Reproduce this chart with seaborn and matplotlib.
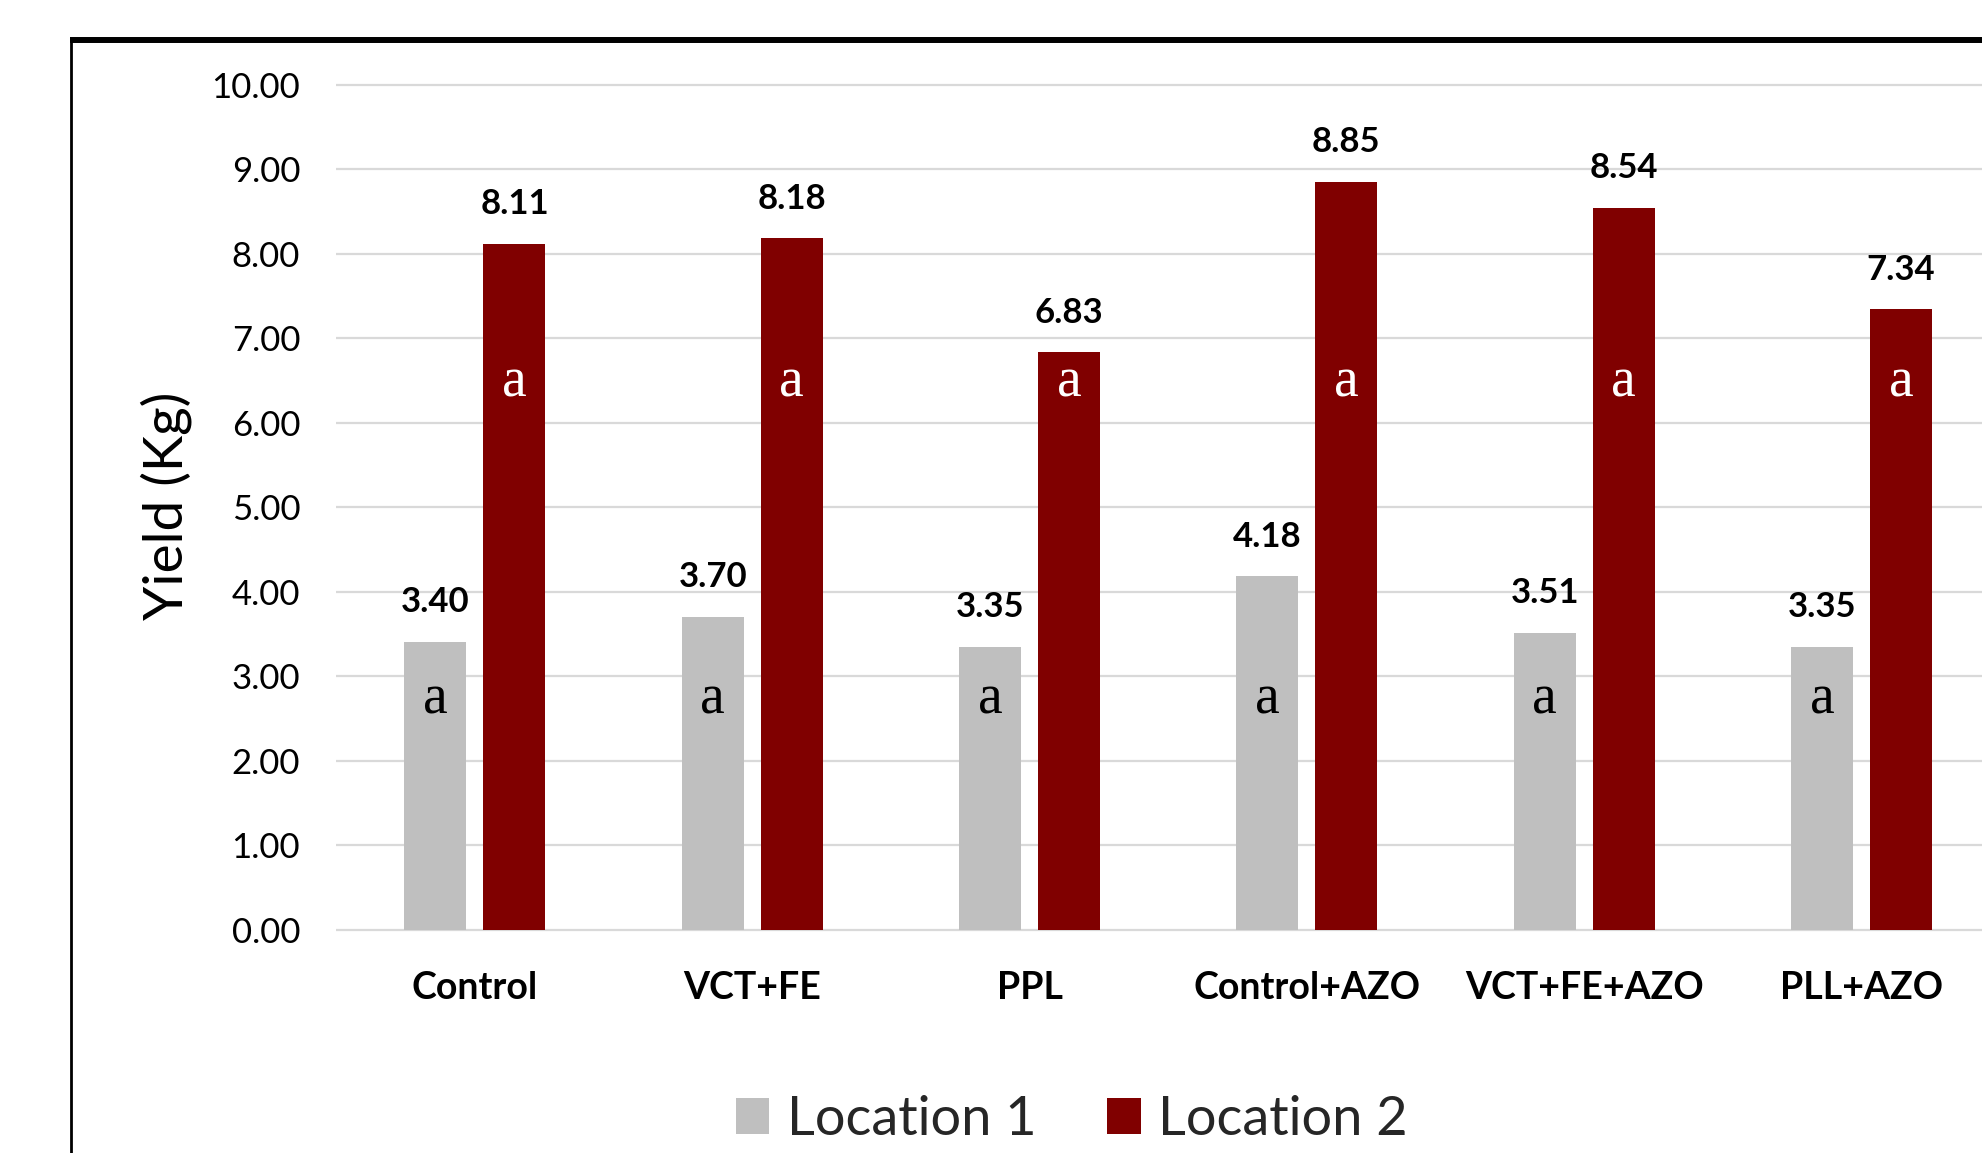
import matplotlib
matplotlib.use("Agg")
import matplotlib.pyplot as plt
from matplotlib.patches import Patch
from matplotlib.lines import Line2D
import seaborn as sns
import pandas as pd

# Treatments and mean yield per location
treatments = ["Control", "VCT+FE", "PPL", "Control+AZO", "VCT+FE+AZO", "PLL+AZO"]
location_names = ["Location 1", "Location 2"]
yield_loc1 = [3.40, 3.70, 3.35, 4.18, 3.51, 3.35]
yield_loc2 = [8.11, 8.18, 6.83, 8.85, 8.54, 7.34]
# Significance letters for each bar
letters_loc1 = ["a", "a", "a", "a", "a", "a"]
letters_loc2 = ["a", "a", "a", "a", "a", "a"]
y_ticks = [0, 1, 2, 3, 4, 5, 6, 7, 8, 9, 10]

GRAY = "#BFBFBF"
MAROON = "#800000"
GRID = "#D9D9D9"

df = pd.DataFrame({
    "Treatment": treatments * 2,
    "Yield": yield_loc1 + yield_loc2,
    "Location": [location_names[0]] * len(treatments) + [location_names[1]] * len(treatments),
})

sns.set_theme(style="white")
plt.rcParams["font.family"] = ["Lato", "DejaVu Sans"]

fig = plt.figure(figsize=(19.83, 11.53), dpi=100)
ax = fig.add_axes([0.1696, 0.1901, 0.839, 0.7585])

sns.barplot(data=df, x="Treatment", y="Yield", hue="Location",
            palette=[GRAY, MAROON], saturation=1, width=0.57, gap=0.216,
            linewidth=0, errorbar=None, legend=False, ax=ax)

ax.set_xlim(-0.5, len(treatments) - 0.5)
ax.set_ylim(-0.05, 10.3)
ax.set_yticks(y_ticks)
ax.set_yticklabels([f"{t:.2f}" for t in y_ticks], fontsize=25)
ax.yaxis.grid(True, color=GRID, linewidth=1.6)
ax.set_axisbelow(True)
for s in ax.spines.values():
    s.set_visible(False)
ax.tick_params(axis="y", length=0, pad=26, labelcolor="black")
ax.tick_params(axis="x", length=0, pad=27, labelcolor="black")
for lbl in ax.get_xticklabels():
    lbl.set_fontsize(27)
    lbl.set_fontweight("bold")
ax.set_xlabel("")
ax.set_ylabel("Yield (Kg)", fontsize=39.5, labelpad=14, color="black", y=0.489)

# Value labels above bars and significance letters inside bars
letter_sets = [letters_loc1, letters_loc2]
letter_y = [2.56, 6.31]
letter_colors = ["black", "white"]
for k, cont in enumerate(ax.containers):
    for bar, letter in zip(cont.patches, letter_sets[k]):
        cx = bar.get_x() + bar.get_width() / 2
        h = bar.get_height()
        ax.annotate(f"{h:.2f}", xy=(cx, h), xytext=(0, 21.5), textcoords="offset points",
                    ha="center", va="baseline", fontsize=25, fontweight="bold", color="black")
        ax.text(cx, letter_y[k], letter, ha="center", va="baseline", fontsize=40,
                family=["Liberation Serif", "DejaVu Serif"], color=letter_colors[k])

handles = [Patch(facecolor=GRAY, edgecolor="none"), Patch(facecolor=MAROON, edgecolor="none")]
fig.legend(handles, location_names, loc="center", bbox_to_anchor=(0.5405, 0.029), ncol=2,
           frameon=False, fontsize=39, handlelength=0.62, handleheight=0.62,
           handletextpad=0.33, columnspacing=1.3, borderaxespad=0, borderpad=0)

# Chart area frame (left and top edges)
W, H = 1983, 1153
fig.add_artist(Line2D([71 / W, 71 / W], [0, 1 - 38 / H], color="black", linewidth=2.0,
                      transform=fig.transFigure, solid_capstyle="butt"))
fig.add_artist(Line2D([70 / W, 1], [1 - 40 / H, 1 - 40 / H], color="black", linewidth=4.3,
                      transform=fig.transFigure, solid_capstyle="butt"))

fig.savefig("out.png", dpi=100, facecolor="white")
